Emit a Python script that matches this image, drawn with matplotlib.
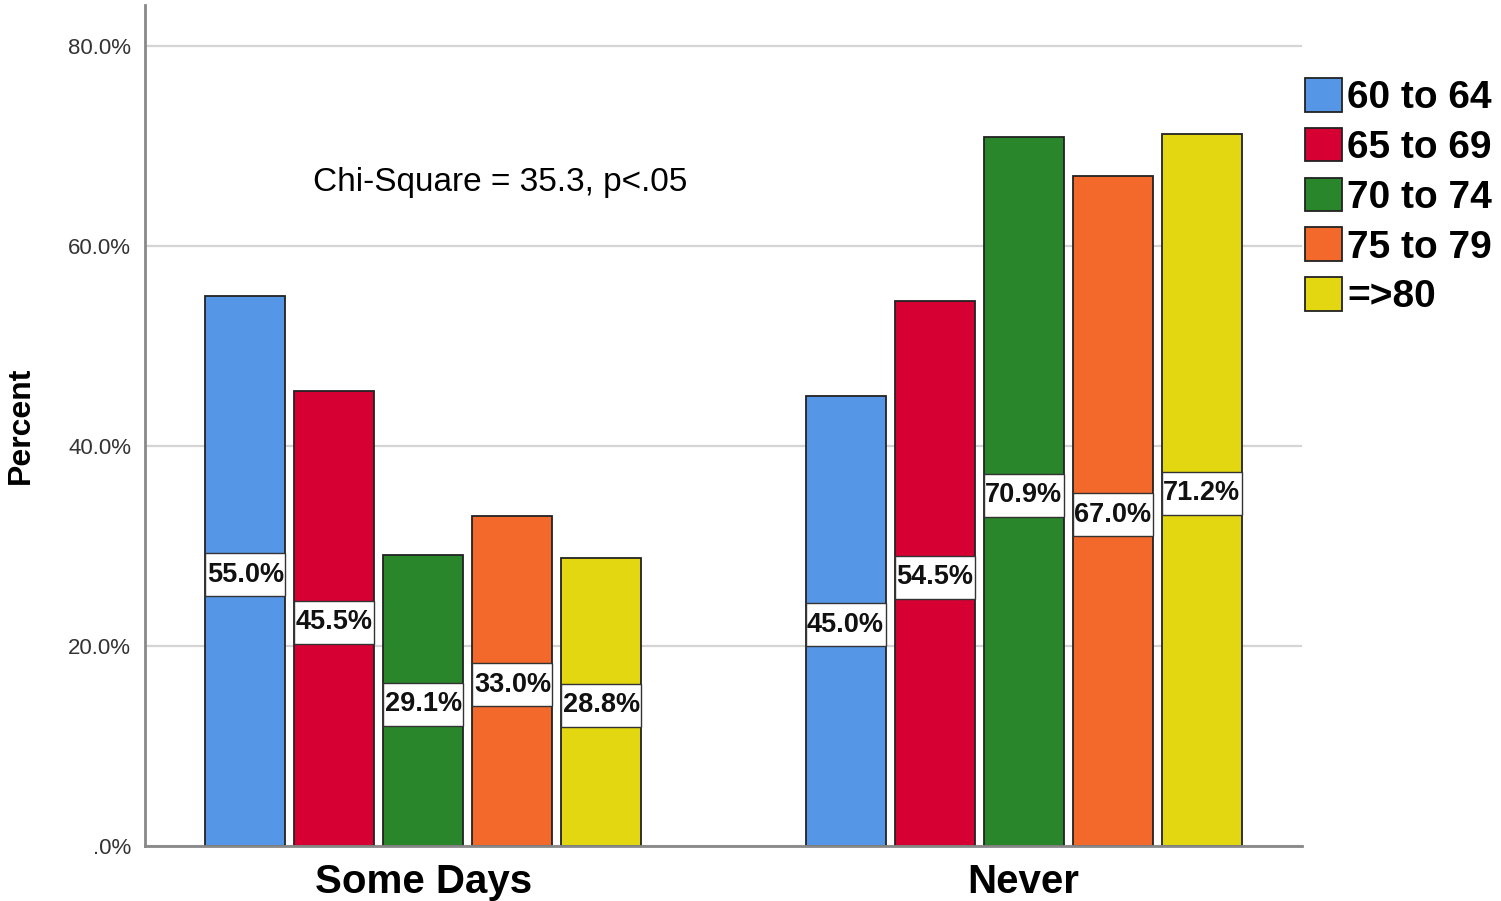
import matplotlib
matplotlib.use("Agg")
import matplotlib.pyplot as plt
from matplotlib.patches import Rectangle, Patch
import numpy as np

categories = ["Some Days", "Never"]
age_groups = ["60 to 64", "65 to 69", "70 to 74", "75 to 79", "=>80"]
some_days = [55.0, 45.5, 29.1, 33.0, 28.8]
never = [45.0, 54.5, 70.9, 67.0, 71.2]
colors = ["#5596E6", "#D70033", "#29862A", "#F2692B", "#E2D710"]
yticks = [0, 20, 40, 60, 80]
ytick_labels = [".0%", "20.0%", "40.0%", "60.0%", "80.0%"]
annotation = "Chi-Square = 35.3, p<.05"

values = np.array([some_days, never])  # shape (category, group)

plt.rcParams['font.family'] = ['Liberation Sans', 'DejaVu Sans']

fig = plt.figure(figsize=(15.01, 9.01), dpi=100)
W, H = 1501, 901
ax = fig.add_axes([145 / W, (H - 846) / H, (1302 - 145) / W, (846 - 5) / H])

bar_w = 80 / 600
step = 89 / 600
x = np.arange(len(categories))
for i, grp in enumerate(age_groups):
    off = (i - 2) * step
    ax.bar(x + off, values[:, i], width=bar_w, color=colors[i],
           edgecolor="#222222", linewidth=1.3, zorder=3)
    for j in range(len(categories)):
        v = values[j, i]
        cy = v / 2 - 0.35
        bh = 4.3
        ax.add_patch(Rectangle((x[j] + off - bar_w / 2, cy - bh / 2), bar_w, bh,
                               facecolor="white", edgecolor="#333333",
                               linewidth=1.0, zorder=4))
        ax.text(x[j] + off, cy, f"{v:.1f}%", ha="center", va="center",
                fontsize=19.5, fontweight="bold", color="#111111", zorder=5)

ax.set_xlim(-0.464, 1.464)
ax.set_ylim(0, 84.1)
ax.set_yticks(yticks)
ax.set_yticklabels(ytick_labels, fontsize=16, color="#333333")
ax.set_xticks(x)
ax.set_xticklabels(categories, fontsize=29, fontweight="bold", color="black")
ax.tick_params(axis="y", length=0, pad=10)
ax.tick_params(axis="x", length=0, pad=12)
ax.grid(axis="y", color="#d4d4d4", linewidth=1.6, zorder=0)
ax.set_axisbelow(True)
for s in ["top", "right"]:
    ax.spines[s].set_visible(False)
ax.spines["left"].set_color("#888888")
ax.spines["left"].set_linewidth(2)
ax.spines["bottom"].set_color("#888888")
ax.spines["bottom"].set_linewidth(2)
ax.spines["left"].set_zorder(6)
ax.spines["bottom"].set_zorder(6)

fig.text(21 / W, 1 - 425 / H, "Percent", rotation=90, fontsize=23,
         fontweight="bold", ha="center", va="center")

fig.text(313 / W, 1 - 182 / H, annotation, fontsize=24, ha="left", va="center")

handles = [Patch(facecolor=c, edgecolor="#222222", linewidth=1.3) for c in colors]
leg = fig.legend(handles, age_groups, loc="upper left",
                 bbox_to_anchor=(1305 / W, 1 - 78 / H), frameon=False,
                 prop={"size": 28, "weight": "bold"},
                 handlelength=0.95, handleheight=0.95, handletextpad=0.13,
                 labelspacing=0.3, borderpad=0, borderaxespad=0)

fig.savefig("out.png", dpi=100)
